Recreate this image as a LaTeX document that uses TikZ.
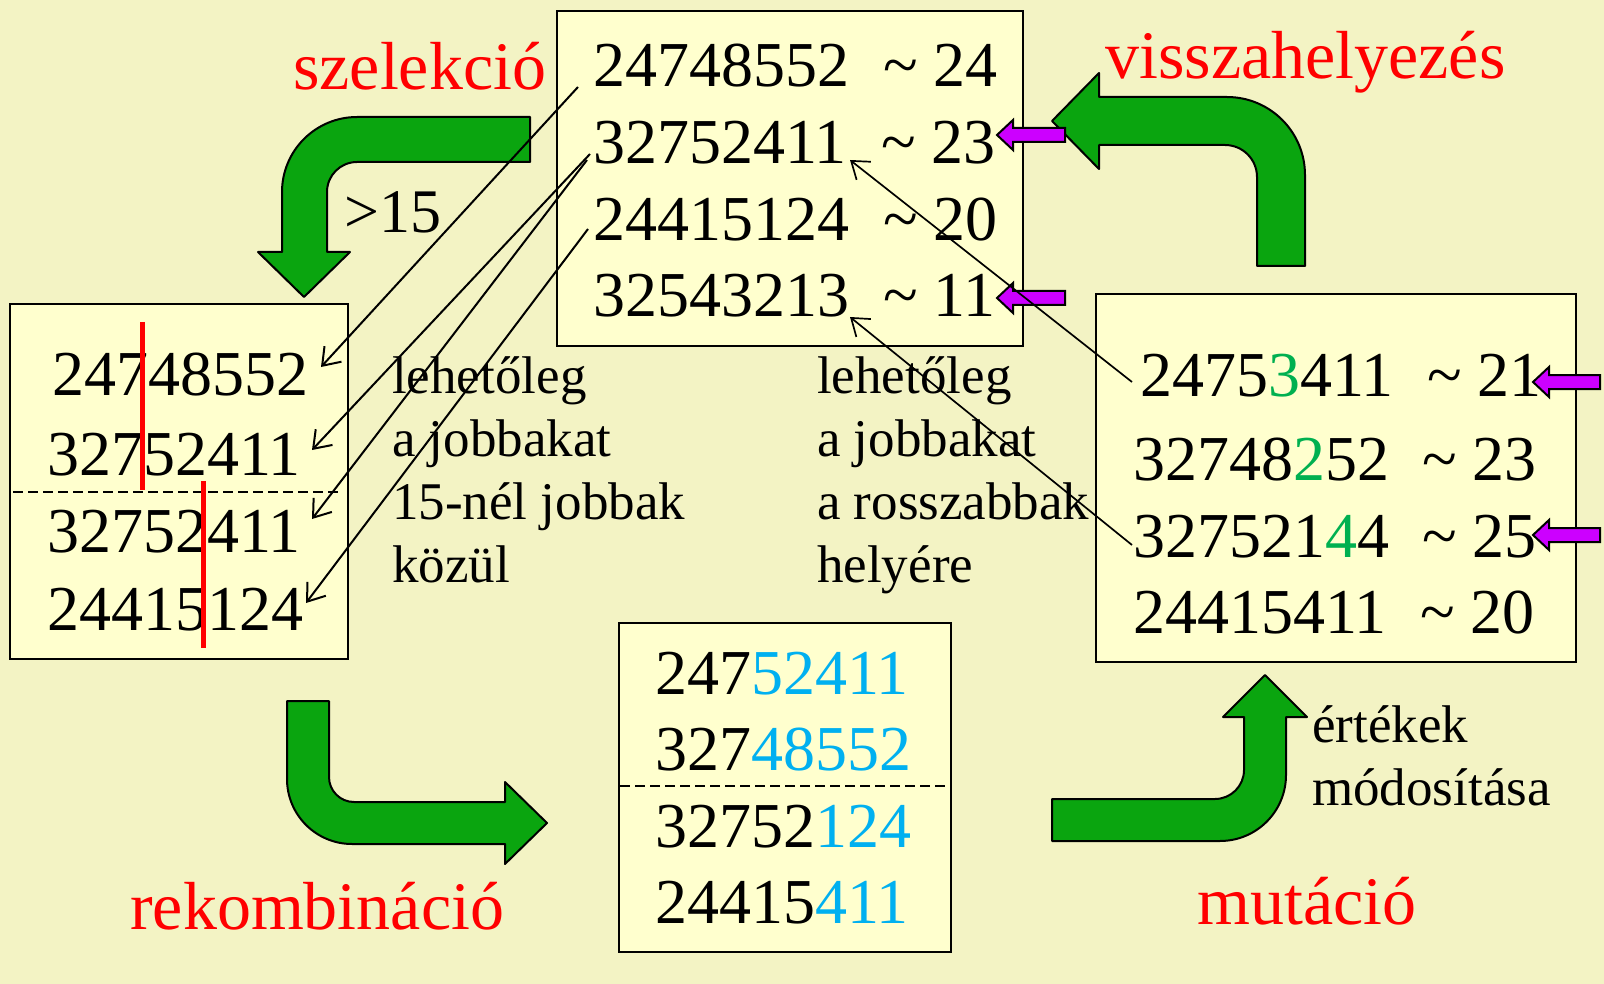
\documentclass[tikz,border=0pt]{standalone}
\usepackage{fontspec}
\setmainfont{Liberation Serif}
\usetikzlibrary{arrows.meta}
\definecolor{bgcol}{RGB}{243,243,196}
\definecolor{boxcol}{RGB}{255,255,206}
\definecolor{arrgreen}{RGB}{10,165,15}
\definecolor{mag}{RGB}{204,0,255}
\definecolor{cyanblue}{RGB}{0,176,240}
\definecolor{mutgreen}{RGB}{0,176,80}

\tikzset{
  panel/.style={draw=black, line width=2.2pt, fill=boxcol, inner sep=0pt, anchor=north west},
  num/.style={anchor=base west, inner sep=0pt, font=\fontsize{64}{64}\selectfont},
  note/.style={anchor=base west, inner sep=0pt, font=\fontsize{53}{53}\selectfont},
  title/.style={anchor=base west, inner sep=0pt, text=red, font=\fontsize{68}{68}\selectfont},
  bigarrow/.style={draw=black, line width=2pt, fill=arrgreen, line join=round},
  magarr/.style={draw=black, line width=2pt, fill=mag, line join=miter},
  cut/.style={draw=red, line width=5pt},
  divider/.style={draw=black, line width=1.5pt, dash pattern=on 10pt off 5pt},
  link/.style={draw=black, line width=2pt, -{Straight Barb[length=16pt,width=23pt,line width=2pt]}},
  backlink/.style={draw=black, line width=1.7pt, -{Straight Barb[length=16pt,width=23pt,line width=1.7pt]}},
}

% small left-pointing marker arrow: tip x, tip y, tail x
\newcommand{\pinkarrow}[3]{%
  \draw[magarr] (#1,#2) -- (#1+16,#2-15) -- (#1+16,#2-7) -- (#3,#2-7)
    -- (#3,#2+7) -- (#1+16,#2+7) -- (#1+16,#2+15) -- cycle;}

\begin{document}
\begin{tikzpicture}[x=1pt,y=-1pt]
  % canvas
  \fill[bgcol] (0,0) rectangle (1604,984);
  \useasboundingbox (0,0) rectangle (1604,984);

  % panels
  \node[panel, minimum width=466pt, minimum height=335pt] (pop) at (556,10) {};
  \node[panel, minimum width=338pt, minimum height=355pt] (parents) at (9,303) {};
  \node[panel, minimum width=332pt, minimum height=329pt] (children) at (618,622) {};
  \node[panel, minimum width=480pt, minimum height=368pt] (mutated) at (1095,293) {};

  % population with fitness
  \node[num] (p1) at (593,87) {24748552};
  \node[num] (p2) at (593,164) {32752411};
  \node[num] (p3) at (593,241) {24415124};
  \node[num] (p4) at (593,317) {32543213};
  \node[num] (f1) at (883,87) {\textasciitilde\ 24};
  \node[num] (f2) at (881,164) {\textasciitilde\ 23};
  \node[num] (f3) at (883,241) {\textasciitilde\ 20};
  \node[num] (f4) at (883,317) {\textasciitilde\ 11};

  % selected parents
  \node[num] (s1) at (52,395) {24748552};
  \node[num] (s2) at (47,475) {32752411};
  \node[num] (s3) at (47,552) {32752411};
  \node[num] (s4) at (47,630) {24415124};
  \draw[divider] (13,492) -- (342,492);
  \draw[cut] (142,322) -- (142,490);
  \draw[cut] (203,481) -- (203,648);

  % offspring
  \node[num] (c1) at (655,694) {247\textcolor{cyanblue}{52411}};
  \node[num] (c2) at (655,770) {327\textcolor{cyanblue}{48552}};
  \node[num] (c3) at (655,847) {32752\textcolor{cyanblue}{124}};
  \node[num] (c4) at (655,923) {24415\textcolor{cyanblue}{411}};
  \draw[divider] (620,786) -- (947,786);

  % mutated offspring with fitness
  \node[num] (m1) at (1140,396) {2475\textcolor{mutgreen}{3}411};
  \node[num] (m2) at (1133,480) {32748\textcolor{mutgreen}{2}52};
  \node[num] (m3) at (1133,557) {327521\textcolor{mutgreen}{4}4};
  \node[num] (m4) at (1133,633) {24415411};
  \node[num] (g1) at (1427,396) {\textasciitilde\ 21};
  \node[num] (g2) at (1422,480) {\textasciitilde\ 23};
  \node[num] (g3) at (1422,557) {\textasciitilde\ 25};
  \node[num] (g4) at (1420,633) {\textasciitilde\ 20};

  % step titles
  \node[title] (tsel) at (293,90) {szelekció};
  \node[title] (tret) at (1105,79) {visszahelyezés};
  \node[title] (trec) at (130,929) {rekombináció};
  \node[title] (tmut) at (1197,924) {mutáció};

  % remarks
  \node[num, font=\fontsize{62}{62}\selectfont] (thr) at (344,233) {>15};
  \node[note] (n1) at (392,393) {lehetőleg};
  \node[note] (n2) at (392,456) {a jobbakat};
  \node[note] (n3) at (392,519) {15-nél jobbak};
  \node[note] (n4) at (392,582) {közül};
  \node[note] (r1) at (817,393) {lehetőleg};
  \node[note] (r2) at (817,456) {a jobbakat};
  \node[note] (r3) at (817,519) {a rosszabbak};
  \node[note] (r4) at (817,582) {helyére};
  \node[note] (v1) at (1312,742) {értékek};
  \node[note] (v2) at (1312,805) {módosítása};

  % big cycle arrows
  \draw[bigarrow] (530,117) -- (357,117) .. controls (315.6,117) and (282,150.6) .. (282,192)
    -- (282,252) -- (258,252) -- (304,297) -- (350,252) -- (327,252) -- (327,192)
    .. controls (327,175.4) and (340.4,162) .. (357,162) -- (530,162) -- cycle;
  \draw[bigarrow] (1257,266) -- (1257,177) .. controls (1257,159.3) and (1242.7,145) .. (1225,145)
    -- (1099,145) -- (1099,169) -- (1052,121) -- (1099,73) -- (1099,97) -- (1227,97)
    .. controls (1270.1,97) and (1305,131.9) .. (1305,175) -- (1305,266) -- cycle;
  \draw[bigarrow] (287,701) -- (287,779) .. controls (287,814.9) and (316.1,844) .. (352,844)
    -- (505,844) -- (505,864) -- (547,823) -- (505,782) -- (505,802) -- (354,802)
    .. controls (340.2,802) and (329,790.8) .. (329,777) -- (329,701) -- cycle;
  \draw[bigarrow] (1052,799) -- (1215,799) .. controls (1231,799) and (1244,786) .. (1244,770)
    -- (1244,717) -- (1223,717) -- (1265,675) -- (1307,717) -- (1286,717) -- (1286,775)
    .. controls (1286,811.5) and (1256.5,841) .. (1220,841) -- (1052,841) -- cycle;

  % replacement markers
  \pinkarrow{997}{135}{1065}
  \pinkarrow{997}{298}{1065}
  \pinkarrow{1533}{382}{1600}
  \pinkarrow{1533}{535}{1600}

  % selection links
  \coordinate (p1o) at (578,87);
  \coordinate (p2o) at (590,154);
  \coordinate (p2p) at (587,160);
  \coordinate (p3o) at (588,229);
  \coordinate (s1i) at (321,367);
  \coordinate (s2i) at (312,450);
  \coordinate (s3i) at (312,519);
  \coordinate (s4i) at (306,603);
  \draw[link] (p1o) -- (s1i);
  \draw[link] (p2o) -- (s2i);
  \draw[link] (p2p) -- (s3i);
  \draw[link] (p3o) -- (s4i);

  % replacement links
  \coordinate (m1o) at (1132,382);
  \coordinate (m3o) at (1132,545);
  \coordinate (p2i) at (850,160);
  \coordinate (p4i) at (850,317);
  \draw[backlink] (m1o) -- (p2i);
  \draw[backlink] (m3o) -- (p4i);
\end{tikzpicture}
\end{document}
